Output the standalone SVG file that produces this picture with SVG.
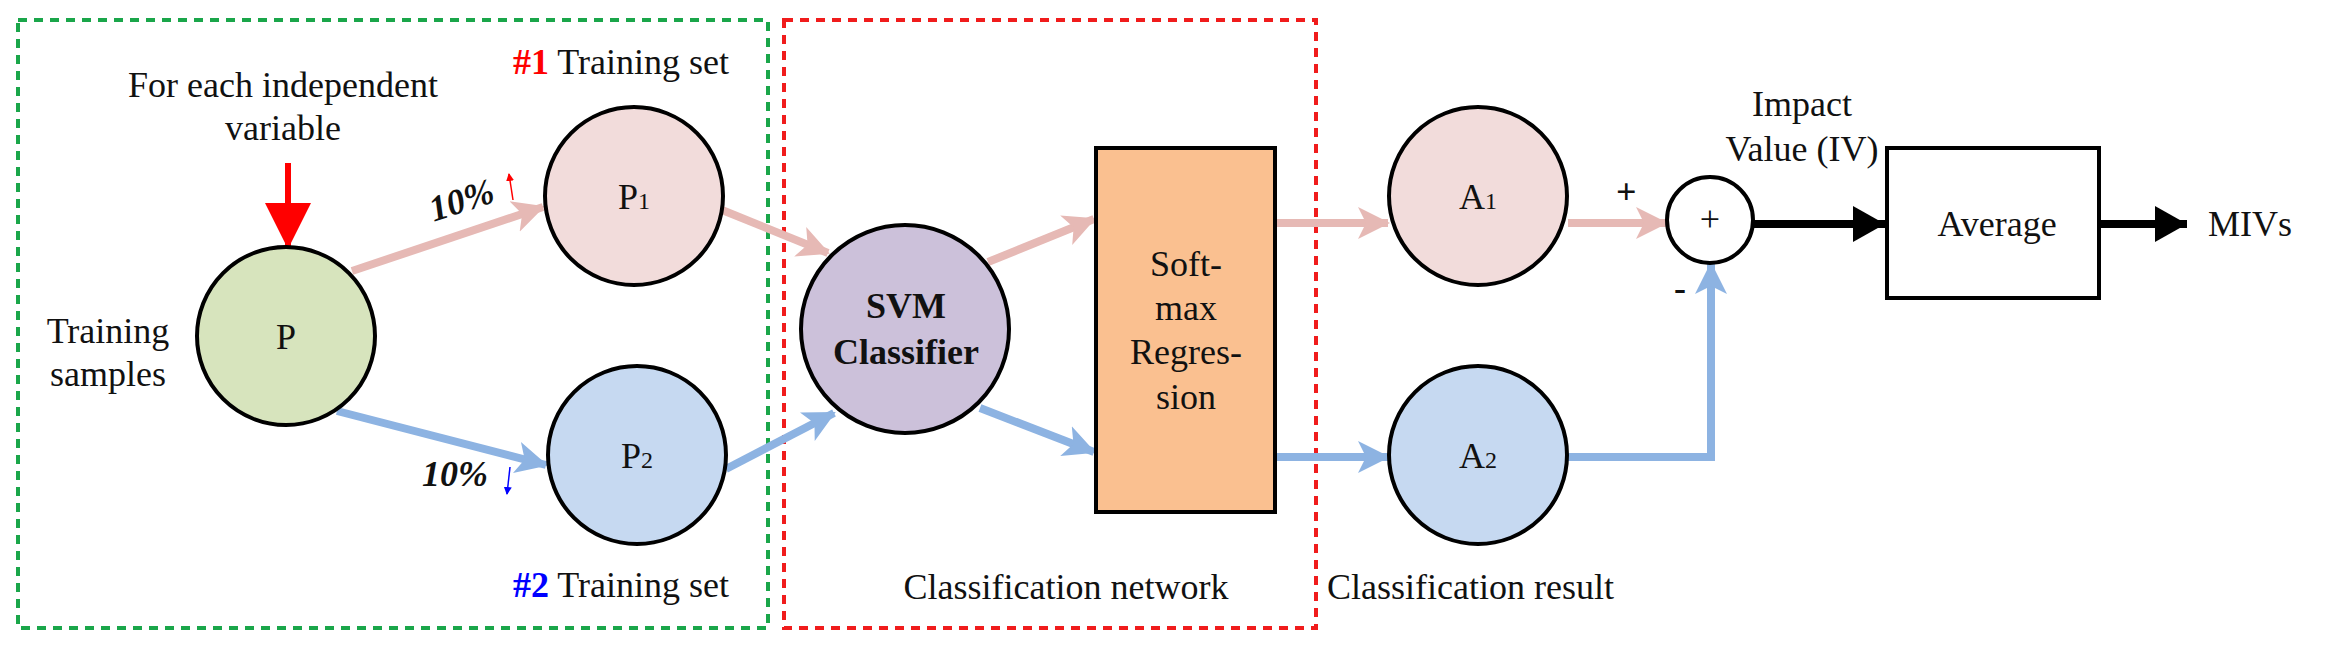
<svg xmlns="http://www.w3.org/2000/svg" width="2327" height="648" viewBox="0 0 2327 648">
<style>
text{font-family:"Liberation Serif","Times New Roman",serif;font-size:36px;fill:#111}
.c{text-anchor:middle}
.node{stroke:#000;stroke-width:4}
.pk{stroke:#e6b9b5;stroke-width:8;fill:none}
.bl{stroke:#8db3e2;stroke-width:8;fill:none}
.bk{stroke:#000;stroke-width:8;fill:none}
.box{fill:none;stroke-width:4;stroke-dasharray:9 7}
</style>
<defs>
<marker id="mp" markerUnits="userSpaceOnUse" markerWidth="36" markerHeight="36" refX="30" refY="18" orient="auto"><path d="M0,2 L32,18 L0,34 L8,18 Z" fill="#e6b9b5"/></marker>
<marker id="mb" markerUnits="userSpaceOnUse" markerWidth="36" markerHeight="36" refX="30" refY="18" orient="auto"><path d="M0,2 L32,18 L0,34 L8,18 Z" fill="#8db3e2"/></marker>
<marker id="mk" markerUnits="userSpaceOnUse" markerWidth="36" markerHeight="40" refX="32" refY="20" orient="auto"><path d="M0,2 L32,20 L0,38 Z" fill="#000"/></marker>
<marker id="mr" markerUnits="userSpaceOnUse" markerWidth="50" markerHeight="50" refX="44" refY="25" orient="auto"><path d="M0,2 L46,25 L0,48 Z" fill="#f00"/></marker>
<marker id="sr" markerUnits="userSpaceOnUse" markerWidth="8" markerHeight="8" refX="7" refY="4" orient="auto"><path d="M0,0 L8,4 L0,8 Z" fill="#f00"/></marker>
<marker id="sb" markerUnits="userSpaceOnUse" markerWidth="8" markerHeight="8" refX="7" refY="4" orient="auto"><path d="M0,0 L8,4 L0,8 Z" fill="#00f"/></marker>
</defs>
<g id="groups">
<rect class="box" x="18" y="20" width="750" height="608" stroke="#1aa64a"/>
<rect class="box" x="784" y="20" width="532" height="608" stroke="#f01c1c"/>
</g>
<g id="connectors">
<line x1="288" y1="163" x2="288" y2="247" stroke="#f00" stroke-width="6" marker-end="url(#mr)"/>
<line class="pk" x1="352" y1="271" x2="543" y2="207" marker-end="url(#mp)"/>
<line class="bl" x1="337" y1="411" x2="546" y2="465" marker-end="url(#mb)"/>
<line class="pk" x1="722" y1="210" x2="828" y2="253" marker-end="url(#mp)"/>
<line class="bl" x1="726" y1="469" x2="834" y2="413" marker-end="url(#mb)"/>
<line class="pk" x1="988" y1="262" x2="1094" y2="219" marker-end="url(#mp)"/>
<line class="bl" x1="980" y1="408" x2="1094" y2="452" marker-end="url(#mb)"/>
<line class="pk" x1="1275" y1="223" x2="1388" y2="223" marker-end="url(#mp)"/>
<line class="bl" x1="1275" y1="457" x2="1388" y2="457" marker-end="url(#mb)"/>
<line class="pk" x1="1568" y1="223" x2="1666" y2="223" marker-end="url(#mp)"/>
<polyline class="bl" points="1568,457 1711,457 1711,264" marker-end="url(#mb)"/>
<line class="bk" x1="1753" y1="224" x2="1885" y2="224" marker-end="url(#mk)"/>
<line class="bk" x1="2099" y1="224" x2="2187" y2="224" marker-end="url(#mk)"/>
<line x1="513" y1="200" x2="509" y2="174" stroke="#f00" stroke-width="1.5" marker-end="url(#sr)"/>
<line x1="510" y1="467" x2="507" y2="494" stroke="#00f" stroke-width="1.5" marker-end="url(#sb)"/>
</g>
<g id="labels">
<text class="c" x="283" y="97">For each independent</text>
<text class="c" x="283" y="140">variable</text>
<text class="c" x="108" y="343">Training</text>
<text class="c" x="108" y="386">samples</text>
<text x="513" y="74"><tspan fill="#f00" font-weight="bold">#1</tspan> Training set</text>
<text x="513" y="597"><tspan fill="#00f" font-weight="bold">#2</tspan> Training set</text>
<text class="c" x="462" y="212" font-weight="bold" font-style="italic" font-size="32" transform="rotate(-18 462 202)">10%</text>
<text class="c" x="455" y="486" font-weight="bold" font-style="italic" font-size="32">10%</text>
<text class="c" x="1066" y="599">Classification network</text>
<text x="1327" y="599">Classification result</text>
<text class="c" x="1802" y="116">Impact</text>
<text class="c" x="1802" y="161">Value (IV)</text>
<text x="1616" y="204" font-family="Liberation Sans,sans-serif" font-weight="bold" font-size="28">+</text>
<text x="1674" y="300" font-family="Liberation Sans,sans-serif" font-weight="bold" font-size="30">-</text>
<text x="2208" y="236">MIVs</text>
</g>
<g id="P"><circle class="node" cx="286" cy="336" r="89" fill="#d7e4bd"/><text class="c" x="286" y="349">P</text></g>
<g id="P1"><circle class="node" cx="634" cy="196" r="89" fill="#f2dcdb"/><text class="c" x="634" y="209">P<tspan font-size="24">1</tspan></text></g>
<g id="P2"><circle class="node" cx="637" cy="455" r="89" fill="#c6d9f1"/><text class="c" x="637" y="468">P<tspan font-size="24">2</tspan></text></g>
<g id="SVM"><circle class="node" cx="905" cy="329" r="104" fill="#ccc1da"/><text class="c" x="906" y="318" font-weight="bold">SVM</text><text class="c" x="906" y="364" font-weight="bold">Classifier</text></g>
<g id="softmax"><rect class="node" x="1096" y="148" width="179" height="364" fill="#fac090"/>
<text class="c" x="1186" y="276">Soft-</text><text class="c" x="1186" y="320">max</text><text class="c" x="1186" y="364">Regres-</text><text class="c" x="1186" y="409">sion</text></g>
<g id="A1"><circle class="node" cx="1478" cy="196" r="89" fill="#f2dcdb"/><text class="c" x="1478" y="209">A<tspan font-size="24">1</tspan></text></g>
<g id="A2"><circle class="node" cx="1478" cy="455" r="89" fill="#c6d9f1"/><text class="c" x="1478" y="468">A<tspan font-size="24">2</tspan></text></g>
<g id="sum"><circle class="node" cx="1710" cy="220" r="43" fill="#fff"/><text class="c" x="1710" y="231" font-size="30">+</text></g>
<g id="average"><rect class="node" x="1887" y="148" width="212" height="150" fill="#fff"/><text class="c" x="1997" y="236">Average</text></g>
</svg>
